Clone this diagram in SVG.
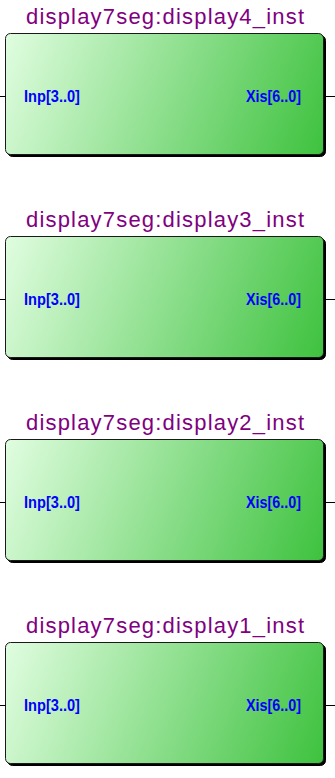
<svg xmlns="http://www.w3.org/2000/svg" width="335" height="778" viewBox="0 0 335 778">
  <defs>
    <linearGradient id="blockFill" gradientUnits="userSpaceOnUse" x1="6" y1="0" x2="323" y2="121">
      <stop offset="0" stop-color="#e0fde0"/>
      <stop offset="1" stop-color="#3ec23e"/>
    </linearGradient>
    <!-- one block symbol: shadow, body, port labels -->
    <g id="block">
      <rect class="shadow" x="7.5" y="1.5" width="318" height="121" rx="5" ry="5"/>
      <rect class="body" x="5.5" y="-0.5" width="318" height="121" rx="5" ry="5"/>
      <text class="port" x="24" y="67.5" textLength="56" lengthAdjust="spacingAndGlyphs">Inp[3..0]</text>
      <text class="port" x="246" y="67.5" textLength="55" lengthAdjust="spacingAndGlyphs">Xis[6..0]</text>
    </g>
  </defs>
  <style>
    .shadow { fill: #000; stroke: #000; stroke-width: 1; }
    .body { fill: url(#blockFill); stroke: #1a1a1a; stroke-width: 1; }
    .port { font-family: "Liberation Sans", Arial, sans-serif; font-weight: bold; font-size: 16.5px; fill: #0000ff; }
    .title { font-family: "Liberation Sans", Arial, sans-serif; font-size: 22px; fill: #800080; }
    .wire { stroke: #000; stroke-width: 1; fill: none; }
  </style>

  <g id="display4_inst" transform="translate(0,34)">
    <text class="title" x="26" y="-10" textLength="278" lengthAdjust="spacing">display7seg:display4_inst</text>
    <use href="#block"/>
  </g>
  <g id="display3_inst" transform="translate(0,237)">
    <text class="title" x="26" y="-10" textLength="278" lengthAdjust="spacing">display7seg:display3_inst</text>
    <use href="#block"/>
  </g>
  <g id="display2_inst" transform="translate(0,440)">
    <text class="title" x="26" y="-10" textLength="278" lengthAdjust="spacing">display7seg:display2_inst</text>
    <use href="#block"/>
  </g>
  <g id="display1_inst" transform="translate(0,643)">
    <text class="title" x="26" y="-10" textLength="278" lengthAdjust="spacing">display7seg:display1_inst</text>
    <use href="#block"/>
  </g>

  <g id="connectors">
    <path class="wire" d="M0 96.5H5.5 M325.5 96.5H335"/>
    <path class="wire" d="M0 299.5H5.5 M325.5 299.5H335"/>
    <path class="wire" d="M0 502.5H5.5 M325.5 502.5H335"/>
    <path class="wire" d="M0 705.5H5.5 M325.5 705.5H335"/>
  </g>
</svg>
